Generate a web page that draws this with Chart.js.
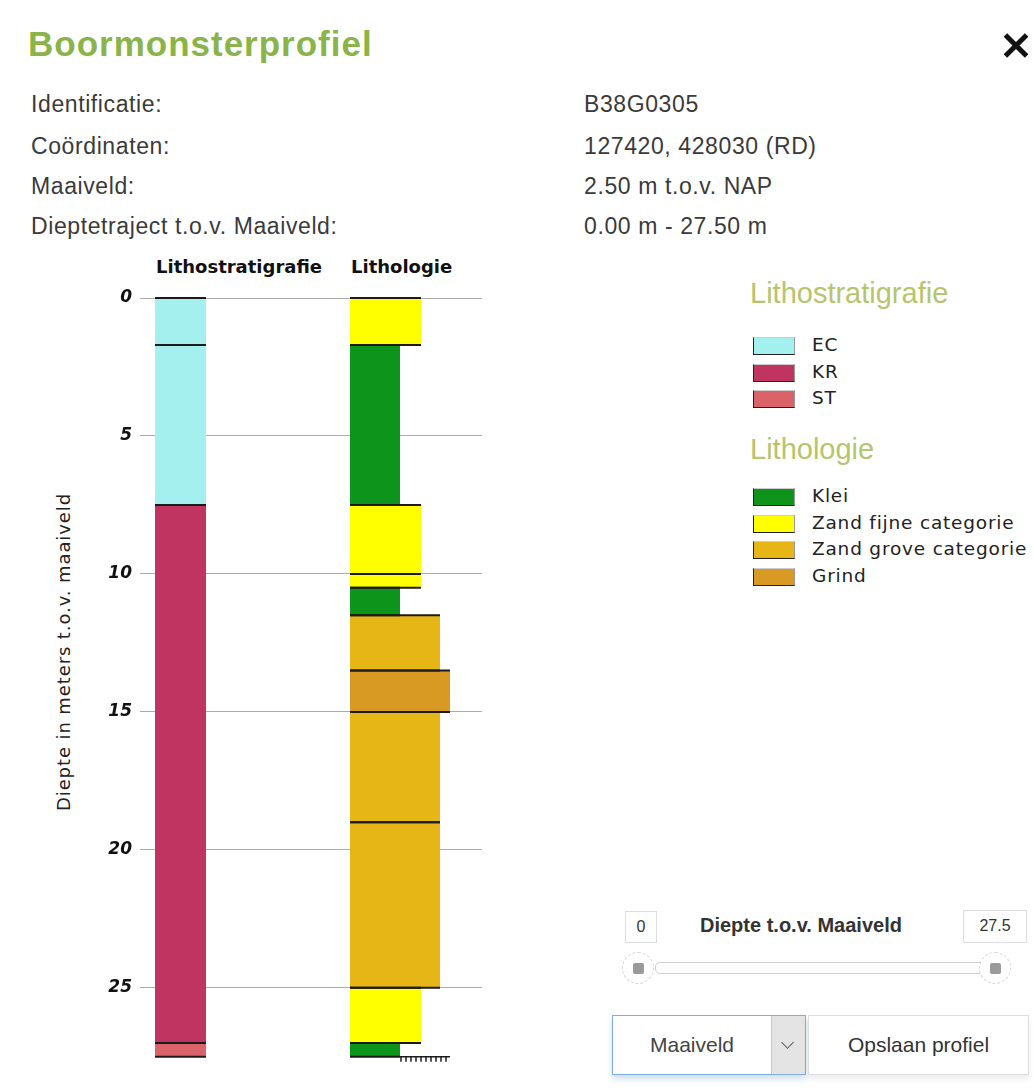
<!DOCTYPE html>
<html>
<head>
<meta charset="utf-8">
<script src="https://cdn.jsdelivr.net/npm/chart.js@4.4.1/dist/chart.umd.min.js"></script>
<style>
  html, body { margin:0; padding:0; background:#fff; }
  body { width:1033px; height:1090px; position:relative; overflow:hidden; font-family:"Liberation Sans", Arial, sans-serif; }
  .abs { position:absolute; white-space:nowrap; }
  #title { left:28px; top:24px; font:bold 35px "Liberation Sans", Arial, sans-serif; color:#8ab44a; letter-spacing:1px; }
  .close { position:absolute; left:1003px; top:33px; width:26px; height:26px; }
  .close:before, .close:after { content:""; position:absolute; left:-2px; top:10px; width:30px; height:5px; background:#111; }
  .close:before { transform:rotate(45deg); }
  .close:after { transform:rotate(-45deg); }
  .info { font-size:23px; color:#3a3a3a; line-height:28px; letter-spacing:0.6px; }
  .colhead { font:bold 18px "DejaVu Sans", sans-serif; color:#111; top:256px; }
  #ytitle { left:63px; top:652px; transform:translate(-50%,-50%) rotate(-90deg); font:18px "DejaVu Sans", sans-serif; color:#222; letter-spacing:0.9px; }
  .lghead { font-size:29px; color:#b7c46e; left:750px; line-height:34px; }
  .lgitem { left:753px; height:24px; }
  .lgitem .box { position:absolute; left:0; top:3px; width:40px; height:16px; border:1px solid; border-color:#ccc #999 #222 #222; }
  .lgitem .lbl { position:absolute; left:59px; top:0; font:18.5px "DejaVu Sans", sans-serif; color:#222; line-height:22px; letter-spacing:0.8px; }
  .valbox { border:1px solid #dcdcdc; background:#fff; font-size:16px; color:#333; text-align:center; line-height:30px; }
  #track { left:655px; top:962px; width:330px; height:10px; border:1px solid #cfcfcf; border-radius:5px; background:#fff; }
  .thumb { width:30px; height:30px; border:1px dashed #d6d6d6; border-radius:50%; background:#fff; }
  .thumb:after { content:""; position:absolute; left:10px; top:10px; width:11px; height:11px; border-radius:2px; background:#9a9a9a; }
  #sel { left:612px; top:1015px; width:192px; height:58px; border:1px solid #7eaee0; background:#fff; box-shadow:0 4px 6px rgba(120,160,210,0.35); }
  #sel .txt { position:absolute; left:0; width:158px; top:0; line-height:58px; text-align:center; font-size:21px; color:#444; }
  #sel .arr { position:absolute; right:0; top:0; width:33px; height:58px; background:#e4e4e4; border-left:1px solid #c8c8c8; }
  #sel .arr:after { content:""; position:absolute; left:11px; top:22px; width:8px; height:8px; border-right:1.5px solid #555; border-bottom:1.5px solid #555; transform:rotate(45deg); }
  #btn { left:808px; top:1015px; width:219px; height:58px; border:1px solid #ddd; background:#fff; line-height:58px; text-align:center; font-size:21px; color:#333; box-shadow:0 4px 6px rgba(0,0,0,0.08); }
</style>
</head>
<body>
<div id="title" class="abs">Boormonsterprofiel</div>
<div class="close"></div>

<div class="abs info" style="left:31px;top:90px;">Identificatie:</div>
<div class="abs info" style="left:31px;top:132px;">Coördinaten:</div>
<div class="abs info" style="left:31px;top:172px;">Maaiveld:</div>
<div class="abs info" style="left:31px;top:212px;">Dieptetraject t.o.v. Maaiveld:</div>
<div class="abs info" style="left:584px;top:90px;">B38G0305</div>
<div class="abs info" style="left:584px;top:132px;">127420, 428030 (RD)</div>
<div class="abs info" style="left:584px;top:172px;">2.50 m t.o.v. NAP</div>
<div class="abs info" style="left:584px;top:212px;">0.00 m - 27.50 m</div>

<div class="abs colhead" style="left:156px;">Lithostratigrafie</div>
<div class="abs colhead" style="left:351px;">Lithologie</div>
<div id="ytitle" class="abs">Diepte in meters t.o.v. maaiveld</div>

<div style="position:absolute;left:40px;top:255px;width:460px;height:820px;">
  <canvas id="c" width="460" height="820"></canvas>
</div>

<div class="abs lghead" style="top:276px;">Lithostratigrafie</div>
<div id="lg1"></div>
<div class="abs lghead" style="top:432px;">Lithologie</div>
<div id="lg2"></div>

<div class="abs valbox" style="left:625px;top:911px;width:30px;height:30px;">0</div>
<div class="abs" style="left:700px;top:914px;font:bold 20px 'Liberation Sans',Arial,sans-serif;color:#333;">Diepte t.o.v. Maaiveld</div>
<div class="abs valbox" style="left:963px;top:910px;width:62px;height:31px;">27.5</div>
<div id="track" class="abs"></div>
<div class="abs thumb" style="left:622px;top:952px;"></div>
<div class="abs thumb" style="left:979px;top:952px;"></div>

<div id="sel" class="abs"><div class="txt">Maaiveld</div><div class="arr"></div></div>
<div id="btn" class="abs">Opslaan profiel</div>

<script>
// ---- data ----
const stratUnits = ['EC', 'KR', 'ST'];
const stratColors = ['#a3f0ee', '#c03462', '#da636a'];
const stratTop    = [0, 1.7, 7.5, 27.0];
const stratBottom = [1.7, 7.5, 27.0, 27.5];
const stratUnit   = ['EC', 'EC', 'KR', 'ST'];

const lithClasses = ['Klei', 'Zand fijne categorie', 'Zand grove categorie', 'Grind'];
const lithColors  = ['#0d951b', '#ffff00', '#e6b616', '#d89a22'];
const lithTop     = [0, 1.7, 7.5, 10.0, 10.5, 11.5, 13.5, 15.0, 19.0, 25.0, 27.0];
const lithBottom  = [1.7, 7.5, 10.0, 10.5, 11.5, 13.5, 15.0, 19.0, 25.0, 27.0, 27.5];
const lithClass   = ['Zand fijne categorie', 'Klei', 'Zand fijne categorie', 'Zand fijne categorie', 'Klei',
                     'Zand grove categorie', 'Grind', 'Zand grove categorie', 'Zand grove categorie',
                     'Zand fijne categorie', 'Klei'];
const depthTicks = [0, 5, 10, 15, 20, 25];
const depthMin = 0, depthMax = 27.5;

// ---- legend (HTML) ----
function buildLegend(id, names, colors, top0) {
  const el = document.getElementById(id);
  names.forEach((n, i) => {
    const d = document.createElement('div');
    d.className = 'abs lgitem';
    d.style.top = (top0 + i * 26.5) + 'px';
    d.innerHTML = '<div class="box" style="background:' + colors[i] + '"></div><div class="lbl">' + n + '</div>';
    el.appendChild(d);
  });
}
buildLegend('lg1', stratUnits, stratColors, 334);
buildLegend('lg2', lithClasses, lithColors, 485);

// ---- styling of columns (x-scale units) ----
const stratCol = { x0: 15, x1: 66 };
const lithX0 = 210;
const lithWidth = { 'Klei': 50, 'Zand fijne categorie': 71, 'Zand grove categorie': 90, 'Grind': 100 };

const layerPlugin = {
  id: 'layers',
  beforeDatasetsDraw(chart) {
    const { ctx, scales: { x, y } } = chart;
    const rects = [];
    stratTop.forEach((t, i) => {
      rects.push({ x0: stratCol.x0, x1: stratCol.x1, t, b: stratBottom[i],
                   c: stratColors[stratUnits.indexOf(stratUnit[i])] });
    });
    lithTop.forEach((t, i) => {
      rects.push({ x0: lithX0, x1: lithX0 + lithWidth[lithClass[i]], t, b: lithBottom[i],
                   c: lithColors[lithClasses.indexOf(lithClass[i])] });
    });
    ctx.save();
    rects.forEach(r => {
      const px0 = x.getPixelForValue(r.x0), px1 = x.getPixelForValue(r.x1);
      const py0 = y.getPixelForValue(r.t), py1 = y.getPixelForValue(r.b);
      ctx.fillStyle = r.c;
      ctx.fillRect(px0, py0, px1 - px0, py1 - py0);
    });
    ctx.strokeStyle = '#1b1b1b';
    ctx.lineWidth = 2;
    rects.forEach(r => {
      const px0 = x.getPixelForValue(r.x0), px1 = x.getPixelForValue(r.x1);
      const py0 = y.getPixelForValue(r.t), py1 = y.getPixelForValue(r.b);
      ctx.beginPath();
      ctx.moveTo(px0, py0); ctx.lineTo(px1, py0);
      ctx.moveTo(px0, py1); ctx.lineTo(px1, py1);
      ctx.stroke();
    });
    // end-of-boring marker
    const endX0 = x.getPixelForValue(lithX0 + lithWidth['Klei']);
    const endX1 = x.getPixelForValue(lithX0 + lithWidth['Grind']);
    const endY = y.getPixelForValue(depthMax);
    ctx.lineWidth = 1.5;
    ctx.beginPath();
    ctx.moveTo(endX0, endY); ctx.lineTo(endX1, endY);
    for (let px = endX0 + 1; px <= endX1; px += 5) { ctx.moveTo(px, endY); ctx.lineTo(px, endY + 5); }
    ctx.stroke();
    ctx.restore();
  }
};

new Chart(document.getElementById('c'), {
  type: 'scatter',
  data: { datasets: [
    { label: 'Lithostratigrafie', data: [], pointRadius: 0 },
    { label: 'Lithologie', data: [], pointRadius: 0 }
  ] },
  options: {
    responsive: false,
    animation: false,
    layout: { padding: { top: 43, right: 18, bottom: 13, left: 0 } },
    plugins: { legend: { display: false }, tooltip: { enabled: false } },
    scales: {
      x: { type: 'linear', display: false, min: 0, max: 342 },
      y: {
        type: 'linear', reverse: true, min: depthMin, max: depthMax,
        afterBuildTicks: s => { s.ticks = depthTicks.map(v => ({ value: v })); },
        afterFit: s => { s.width = 100; },
        border: { display: false },
        grid: { color: '#ababab', lineWidth: 1, drawTicks: false },
        ticks: {
          padding: 8, color: '#111',
          font: { family: 'DejaVu Sans', style: 'italic', weight: 'bold', size: 17 }
        }
      }
    }
  },
  plugins: [layerPlugin]
});
</script>
</body>
</html>
